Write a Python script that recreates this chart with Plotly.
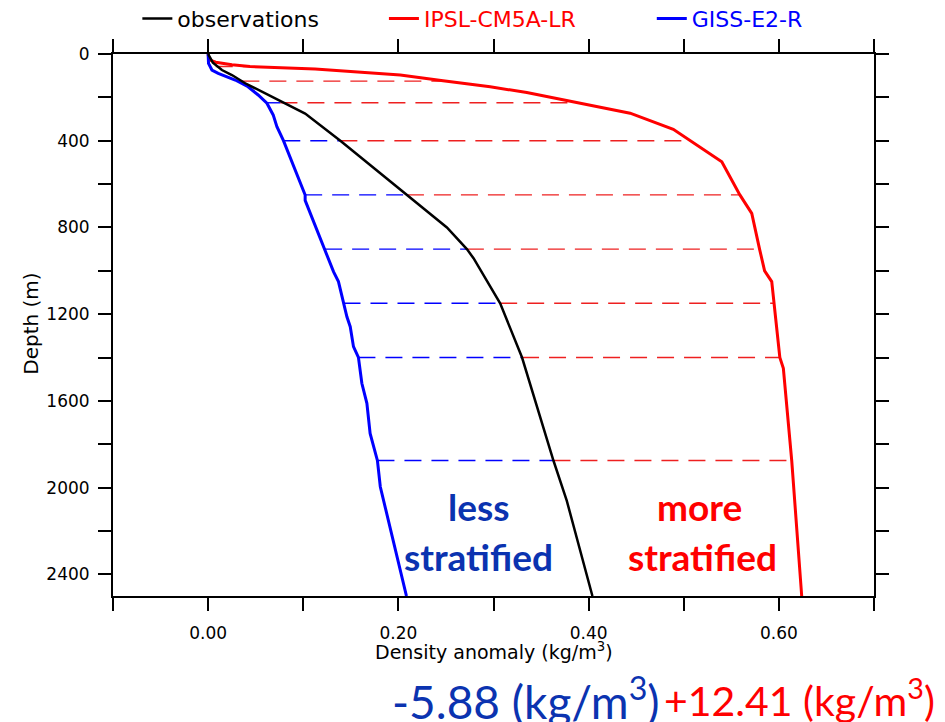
import plotly.graph_objects as go

# ---------------- data ----------------
obs_depth = [0, 40, 74, 97, 135, 174, 220, 275, 400, 650, 800, 900, 942, 1150, 1400, 1875, 2060, 2500]
obs_val = [0.0, 0.005, 0.0145, 0.025, 0.039, 0.0565, 0.0776, 0.102, 0.139, 0.209, 0.251, 0.272,
           0.279, 0.307, 0.330, 0.363, 0.377, 0.404]

ipsl_depth = [0, 15, 28, 38, 50, 58, 69, 97, 123, 151, 178, 220, 273, 347, 400, 497, 650, 735,
              900, 1000, 1050, 1150, 1400, 1450, 1875, 2500]
ipsl_val = [0.0, 0.0005, 0.002, 0.008, 0.025, 0.044, 0.1125, 0.202, 0.247, 0.2965, 0.335, 0.384,
            0.4436, 0.489, 0.5066, 0.540, 0.559, 0.5715, 0.5797, 0.585, 0.5925, 0.595, 0.601,
            0.6047, 0.6135, 0.624]

giss_depth = [0, 43, 74, 89, 120, 151, 189, 227, 281, 335, 400, 535, 650, 675, 889, 1004, 1050,
              1150, 1212, 1258, 1350, 1399, 1519, 1611, 1750, 1876, 1996, 2500]
giss_val = [0.0, 0.0004, 0.004, 0.0106, 0.0285, 0.042, 0.0526, 0.0618, 0.0684, 0.0723, 0.0792,
            0.0915, 0.102, 0.102, 0.1213, 0.1318, 0.137, 0.1423, 0.1459, 0.1494, 0.1528, 0.158,
            0.1616, 0.1669, 0.1703, 0.178, 0.181, 0.2085]

# dashed comparison levels
dash_depth = [58, 125, 225, 400, 650, 900, 1150, 1400, 1875]
dash_giss = [0.006, 0.034, 0.062, 0.079, 0.102, 0.123, 0.1423, 0.158, 0.178]
dash_obs = [0.008, 0.036, 0.076, 0.139, 0.209, 0.272, 0.307, 0.330, 0.363]
dash_ipsl = [0.044, 0.247, 0.384, 0.507, 0.559, 0.580, 0.595, 0.601, 0.6135]

x_ticks = [-0.1, 0.0, 0.1, 0.2, 0.3, 0.4, 0.5, 0.6, 0.7]
x_ticklabels = ["", "0.00", "", "0.20", "", "0.40", "", "0.60", ""]
y_ticks = [0, 200, 400, 600, 800, 1000, 1200, 1400, 1600, 1800, 2000, 2200, 2400]
y_ticklabels = ["0", "", "400", "", "800", "", "1200", "", "1600", "", "2000", "", "2400"]

RED = "#FF0000"
BLUE = "#0000FF"
TXT_BLUE = "#0B33B0"
AXFONT = "DejaVu Sans"

fig = go.Figure()

# dashed lines: blue segment (GISS -> obs) and red segment (obs -> IPSL)
for d, g, o, p in zip(dash_depth, dash_giss, dash_obs, dash_ipsl):
    if o - g > 0.004:
        fig.add_trace(go.Scatter(x=[g, o], y=[d, d], mode="lines", showlegend=False,
                                 line=dict(color=BLUE, width=1.4, dash="17px,10px"),
                                 hoverinfo="skip"))
    fig.add_trace(go.Scatter(x=[o, p], y=[d, d], mode="lines", showlegend=False,
                             line=dict(color="#EE2020", width=1.4, dash="17px,10px"),
                             hoverinfo="skip"))

fig.add_trace(go.Scatter(x=ipsl_val, y=ipsl_depth, mode="lines", name="IPSL-CM5A-LR",
                         line=dict(color=RED, width=3), legend="legend2"))
fig.add_trace(go.Scatter(x=giss_val, y=giss_depth, mode="lines", name="GISS-E2-R",
                         line=dict(color=BLUE, width=3), legend="legend3"))
fig.add_trace(go.Scatter(x=obs_val, y=obs_depth, mode="lines", name="observations",
                         line=dict(color="black", width=2.5), legend="legend"))

axis_common = dict(showgrid=False, zeroline=False, showline=True, linecolor="black",
                   linewidth=2, mirror="ticks", ticks="outside", ticklen=13, tickwidth=1.6,
                   tickcolor="black", tickfont=dict(family=AXFONT, size=17, color="black"))

fig.update_xaxes(range=[-0.1, 0.7], tickvals=x_ticks, ticktext=x_ticklabels,
                 ticklabelstandoff=8, **axis_common)
fig.update_yaxes(range=[2500, 0], tickvals=y_ticks, ticktext=y_ticklabels,
                 ticklabelstandoff=5, **axis_common)

leg_common = dict(orientation="h", yanchor="middle", xanchor="left", y=1.065,
                  bgcolor="rgba(0,0,0,0)", borderwidth=0, itemwidth=30)
# the page adds an 8px body margin, so the figure is 8px smaller than the window
fig.update_layout(
    width=937, height=714,
    margin=dict(l=105, r=71, t=46, b=126, autoexpand=False),
    paper_bgcolor="white", plot_bgcolor="white",
    legend=dict(x=0.032, font=dict(family=AXFONT, size=22, color="black"), **leg_common),
    legend2=dict(x=0.356, font=dict(family=AXFONT, size=22, color=RED), **leg_common),
    legend3=dict(x=0.708, font=dict(family=AXFONT, size=22, color=BLUE), **leg_common),
)

annots = [
    dict(x=0.284, y=2089, text="less", font=dict(family="Lato", size=37, color=TXT_BLUE)),
    dict(x=0.284, y=2320, text="stratified", font=dict(family="Lato", size=37, color=TXT_BLUE)),
    dict(x=0.517, y=2089, text="more", font=dict(family="Lato", size=37, color=RED)),
    dict(x=0.520, y=2320, text="stratified", font=dict(family="Lato", size=37, color=RED)),
]
for a in annots:
    fig.add_annotation(xref="x", yref="y", showarrow=False, xanchor="center", yanchor="middle",
                       text="<b>%s</b>" % a["text"], x=a["x"], y=a["y"], font=a["font"])

fig.add_annotation(xref="paper", yref="paper", x=0.5, y=-0.102, showarrow=False,
                   xanchor="center", yanchor="middle",
                   text="Density anomaly (kg/m<sup>3</sup>)",
                   font=dict(family=AXFONT, size=19, color="black"))
fig.add_annotation(xref="paper", yref="paper", x=-0.108, y=0.502, showarrow=False,
                   xanchor="center", yanchor="middle", textangle=-90,
                   text="Depth (m)", font=dict(family=AXFONT, size=20, color="black"))

fig.add_annotation(xref="paper", yref="paper", x=0.721, y=-0.189, showarrow=False,
                   xanchor="right", yanchor="middle",
                   text="-5.88 (kg/m<sup>3</sup>)", font=dict(family="Lato", size=46, color=TXT_BLUE))
fig.add_annotation(xref="paper", yref="paper", x=0.721, y=-0.189, showarrow=False,
                   xanchor="left", yanchor="middle",
                   text="+12.41 (kg/m<sup>3</sup>)", font=dict(family="Lato", size=41, color=RED))

fig.write_html("out.html")
